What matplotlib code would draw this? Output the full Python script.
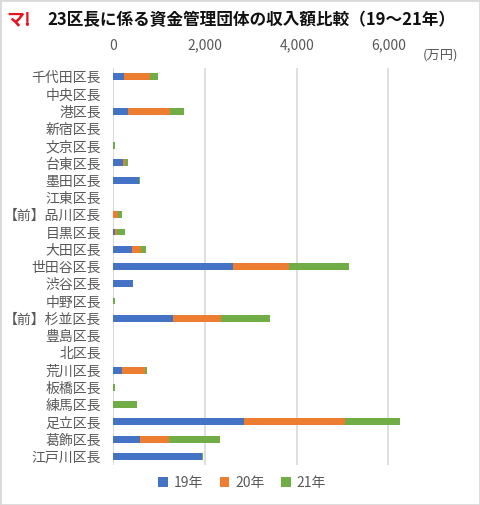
import matplotlib.pyplot as plt
import numpy as np
from matplotlib.patches import Rectangle

plt.rcParams['font.family'] = ['Noto Sans CJK JP', 'DejaVu Sans']

# data (万円)
names = ['千代田区長', '中央区長', '港区長', '新宿区長', '文京区長', '台東区長',
         '墨田区長', '江東区長', '【前】品川区長', '目黒区長', '大田区長', '世田谷区長',
         '渋谷区長', '中野区長', '【前】杉並区長', '豊島区長', '北区長', '荒川区長',
         '板橋区長', '練馬区長', '足立区長', '葛飾区長', '江戸川区長']
y19 = [233, 0, 320, 0, 0, 211, 567, 0, 0, 36, 407, 2610,
       429, 0, 1301, 0, 0, 189, 0, 0, 2850, 582, 1934]
y20 = [567, 0, 916, 0, 0, 51, 0, 0, 102, 44, 196, 1221,
       0, 0, 1047, 0, 0, 502, 0, 0, 2203, 633, 0]
y21 = [175, 0, 305, 0, 35, 58, 15, 0, 87, 175, 109, 1309,
       0, 30, 1069, 0, 0, 44, 30, 516, 1200, 1112, 22]
series = ['19年', '20年', '21年']
colors = ['#4472C4', '#ED7D31', '#70AD47']
xticks = [0, 2000, 4000, 6000]

W, H = 480, 505
fig = plt.figure(figsize=(W / 100, H / 100), dpi=100)
ax = fig.add_axes([113.3 / W, 1 - 465 / H, (420 - 113.3) / W, (465 - 68) / H])

pos = np.arange(len(names))
left = np.zeros(len(names))
for vals, lab, c in zip([y19, y20, y21], series, colors):
    vals = np.array(vals, dtype=float)
    ax.barh(pos, vals, left=left, height=0.4, color=c, label=lab, zorder=3)
    left += vals

ax.set_ylim(len(names) - 0.5, -0.5)
ax.set_xlim(0, 6690)
ax.set_yticks(pos)
ax.set_yticklabels(names, fontsize=10, color='#595959')
ax.xaxis.tick_top()
ax.set_xticks(xticks)
ax.set_xticklabels([f'{v:,}' for v in xticks], fontsize=10, color='#595959')
ax.tick_params(axis='both', length=0)
ax.tick_params(axis='x', pad=11)
ax.tick_params(axis='y', pad=9)
for s in ax.spines.values():
    s.set_visible(False)
ax.grid(axis='x', color='#d9d9d9', lw=1.2, zorder=0)
ax.axvline(0, color='#d9d9d9', lw=1.2, zorder=1)

fig.text(423 / W, 1 - 55 / H, '(万円)', fontsize=9.5, color='#595959', va='center')
fig.text(47 / W, 1 - 20 / H, '23区長に係る資金管理団体の収入額比較（19～21年）',
         fontsize=12, fontweight='bold', color='#111111', va='center')
fig.text(6 / W, 1 - 20 / H, 'マ!', fontsize=13, fontweight='bold', color='#e8141c', va='center')

fig.legend(loc='center', bbox_to_anchor=(242 / W, 1 - 483 / H), ncol=3, frameon=False,
           fontsize=10, handlelength=0.7, handleheight=0.7, handletextpad=0.4,
           columnspacing=1.2, labelcolor='#595959')

fig.patches.append(Rectangle((0, 0), 1, 1, transform=fig.transFigure, fill=False,
                             edgecolor='#d9d9d9', lw=2))

fig.savefig('out.png', dpi=100)
